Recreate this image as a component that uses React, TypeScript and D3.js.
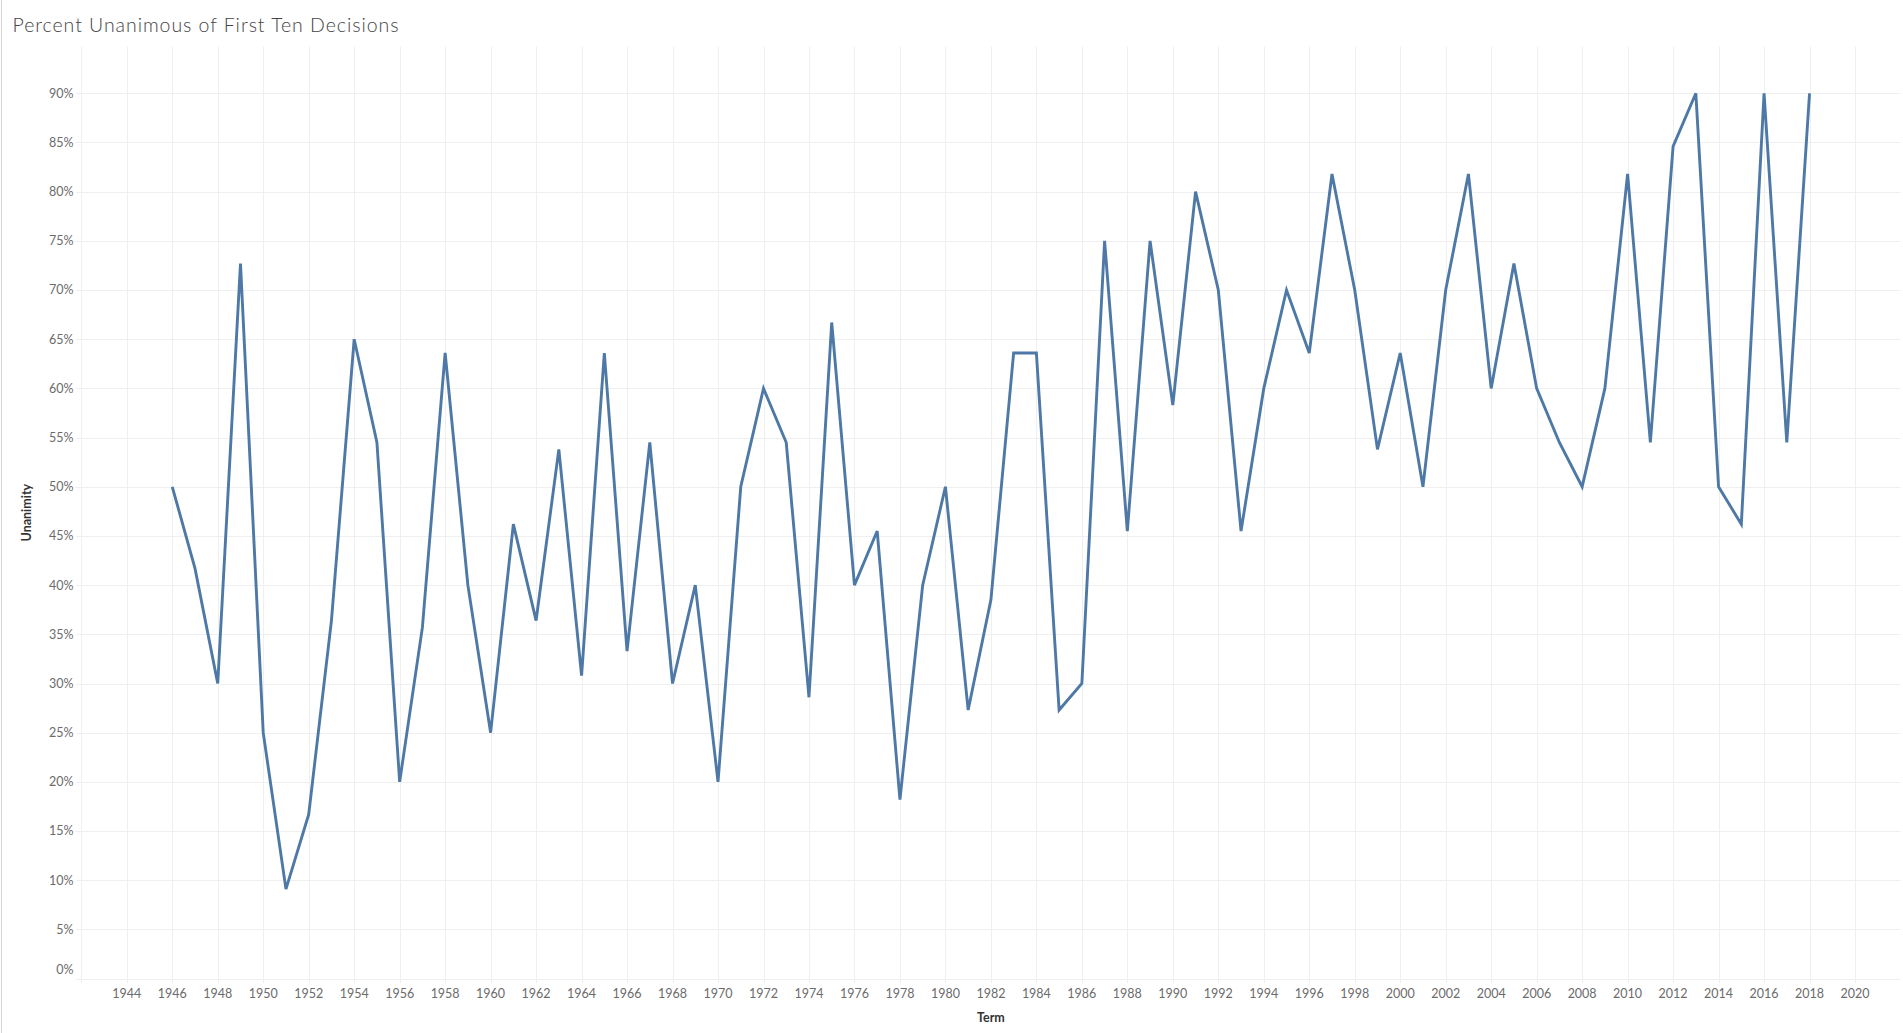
import React from "react";
import * as d3 from "d3";

const terms: number[] = [
  1946, 1947, 1948, 1949, 1950, 1951, 1952, 1953, 1954, 1955, 1956, 1957, 1958, 1959,
  1960, 1961, 1962, 1963, 1964, 1965, 1966, 1967, 1968, 1969, 1970, 1971, 1972, 1973,
  1974, 1975, 1976, 1977, 1978, 1979, 1980, 1981, 1982, 1983, 1984, 1985, 1986, 1987,
  1988, 1989, 1990, 1991, 1992, 1993, 1994, 1995, 1996, 1997, 1998, 1999, 2000, 2001,
  2002, 2003, 2004, 2005, 2006, 2007, 2008, 2009, 2010, 2011, 2012, 2013, 2014, 2015,
  2016, 2017, 2018,
];

const unanimity: number[] = [
  0.5, 0.417, 0.3, 0.727, 0.25, 0.091, 0.167, 0.364, 0.65, 0.545, 0.2, 0.357, 0.636, 0.4,
  0.25, 0.462, 0.364, 0.538, 0.308, 0.636, 0.333, 0.545, 0.3, 0.4, 0.2, 0.5, 0.6, 0.545,
  0.286, 0.667, 0.4, 0.455, 0.182, 0.4, 0.5, 0.273, 0.385, 0.636, 0.636, 0.273, 0.3, 0.75,
  0.455, 0.75, 0.583, 0.8, 0.7, 0.455, 0.6, 0.7, 0.636, 0.818, 0.7, 0.538, 0.636, 0.5,
  0.7, 0.818, 0.6, 0.727, 0.6, 0.545, 0.5, 0.6, 0.818, 0.545, 0.846, 0.9, 0.5, 0.462,
  0.9, 0.545, 0.9,
];

const xTickYears: number[] = d3.range(1944, 2021, 2);
const xGridYears: number[] = d3.range(1942, 2021, 2);
const yTicks: number[] = d3.range(0, 0.9001, 0.05);

const title = "Percent Unanimous of First Ten Decisions";
const xTitle = "Term";
const yTitle = "Unanimity";

export default function App() {
  const W = 1903;
  const H = 1033;
  const plotLeft = 81.3;
  const plotRight = 1900.5;
  const plotTop = 46.7;
  const plotBottom = 978.6;

  const x = d3.scaleLinear().domain([1942, 2022]).range([plotLeft, plotRight]);
  const y = d3.scaleLinear().domain([0, 0.9]).range([plotBottom, 93.3]);

  const pts: [number, number][] = terms.map((t, i) => [t, unanimity[i]]);
  const line = d3
    .line<[number, number]>()
    .x((d) => x(d[0]))
    .y((d) => y(d[1]));

  const font = "Lato, 'Open Sans', sans-serif";
  const grid = "#efefef";

  return (
    <svg
      width={W}
      height={H}
      style={{ position: "fixed", left: 0, top: 0, background: "#fff" }}
    >
      <rect x={0} y={0} width={W} height={H} fill="#fff" />
      <line x1={1.5} x2={1.5} y1={0} y2={H} stroke="#d6d6d6" strokeWidth={1} />
      <text
        x={12.5}
        y={32.3}
        fontFamily={font}
        fontSize={19.5}
        fontWeight={300}
        letterSpacing={0.95}
        fill="#444"
      >
        {title}
      </text>

      {/* horizontal grid */}
      {yTicks.map((v) => (
        <line
          key={"h" + v}
          x1={76}
          x2={plotRight}
          y1={Math.round(y(v)) + 0.5}
          y2={Math.round(y(v)) + 0.5}
          stroke={grid}
          strokeWidth={1}
        />
      ))}
      {/* vertical grid */}
      {xGridYears.map((yr) => (
        <line
          key={"v" + yr}
          x1={Math.round(x(yr)) + 0.5}
          x2={Math.round(x(yr)) + 0.5}
          y1={plotTop}
          y2={983}
          stroke={grid}
          strokeWidth={1}
        />
      ))}

      {/* y labels */}
      {yTicks.map((v, i) => (
        <text
          key={"yl" + v}
          x={73.5}
          y={i === 0 ? y(v) - 8.5 : y(v)}
          dy="0.35em"
          textAnchor="end"
          fontFamily={font}
          fontSize={12.5}
          fill="#6b6b6b"
        >
          {d3.format(".0%")(v)}
        </text>
      ))}
      {/* x labels */}
      {xTickYears.map((yr) => (
        <text
          key={"xl" + yr}
          x={x(yr)}
          y={998.3}
          textAnchor="middle"
          fontFamily={font}
          fontSize={12.5}
          fill="#6b6b6b"
        >
          {yr}
        </text>
      ))}

      <text
        x={(plotLeft + plotRight) / 2}
        y={1021.7}
        textAnchor="middle"
        fontFamily={font}
        fontSize={12.5}
        fontWeight={700}
        fill="#333"
      >
        {xTitle}
      </text>
      <text
        transform={`translate(30.5, ${(plotTop + plotBottom) / 2}) rotate(-90)`}
        textAnchor="middle"
        fontFamily={font}
        fontSize={12.5}
        fontWeight={700}
        fill="#333"
      >
        {yTitle}
      </text>

      <path
        d={line(pts) || ""}
        fill="none"
        stroke="#4e79a7"
        strokeWidth={2.9}
        strokeLinejoin="miter"
        strokeMiterlimit={4}
      />
    </svg>
  );
}
